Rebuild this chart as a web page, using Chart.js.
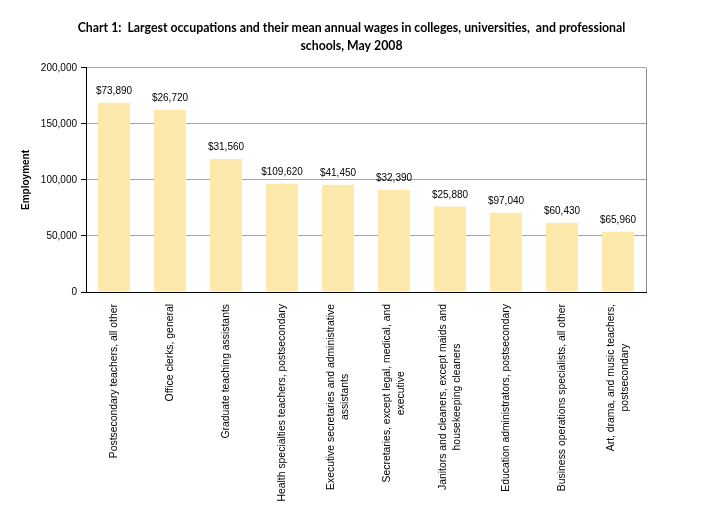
<!DOCTYPE html>
<html>
<head>
<meta charset="utf-8">
<script src="https://cdn.jsdelivr.net/npm/chart.js@4"></script>
<style>
  html, body { margin: 0; padding: 0; background: #fff; }
  #wrap { width: 703px; height: 512px; }
</style>
</head>
<body>
<div id="wrap"><canvas id="chart"></canvas></div>
<script>
const occupations = [
    'Postsecondary teachers, all other',
    'Office clerks, general',
    'Graduate teaching assistants',
    'Health specialties teachers, postsecondary',
    ['Executive secretaries and administrative', 'assistants'],
    ['Secretaries, except legal, medical, and', 'executive'],
    ['Janitors and cleaners, except maids and', 'housekeeping cleaners'],
    'Education administrators, postsecondary',
    'Business operations specialists, all other',
    ['Art, drama, and music teachers,', 'postsecondary']
];
const employment = [169000, 162500, 118800, 96700, 95800, 91300, 76200, 70800, 61900, 53800];
const meanWages = ['$73,890', '$26,720', '$31,560', '$109,620', '$41,450', '$32,390', '$25,880', '$97,040', '$60,430', '$65,960'];
const yTicks = [0, 50000, 100000, 150000, 200000];

const labelFont = '10.4px "Liberation Sans", Arial, sans-serif';

// wage labels above bars, centred category labels under the axis, grey right border
const extras = {
    id: 'extras',
    afterDatasetsDraw(chart) {
        const ctx = chart.ctx;
        const meta = chart.getDatasetMeta(0);
        ctx.save();
        ctx.font = '10px "Liberation Sans", Arial, sans-serif';
        ctx.fillStyle = '#000';
        ctx.textAlign = 'center';
        ctx.textBaseline = 'alphabetic';
        meta.data.forEach((bar, i) => {
            ctx.fillText(meanWages[i], bar.x, bar.y - 9);
        });
        const area = chart.chartArea;
        ctx.strokeStyle = '#8c8c8c';
        ctx.lineWidth = 1;
        ctx.beginPath();
        ctx.moveTo(Math.round(area.right) + 0.5, area.top);
        ctx.lineTo(Math.round(area.right) + 0.5, area.bottom);
        ctx.stroke();
        ctx.restore();
    },
    afterDraw(chart) {
        const ctx = chart.ctx;
        const x = chart.scales.x;
        const lh = 14.5;
        ctx.save();
        ctx.font = labelFont;
        ctx.fillStyle = '#000';
        ctx.textAlign = 'center';
        ctx.textBaseline = 'middle';
        occupations.forEach((lab, i) => {
            const lines = Array.isArray(lab) ? lab : [lab];
            const maxW = Math.max(...lines.map(l => ctx.measureText(l).width));
            ctx.save();
            ctx.translate(x.getPixelForTick(i), x.top);
            ctx.rotate(-Math.PI / 2);
            lines.forEach((l, j) => {
                ctx.fillText(l, -(12 + maxW / 2), (j - (lines.length - 1) / 2) * lh);
            });
            ctx.restore();
        });
        ctx.restore();
    }
};

new Chart(document.getElementById('chart'), {
    type: 'bar',
    data: {
        labels: occupations,
        datasets: [{
            data: employment,
            backgroundColor: '#FDE9AC',
            borderWidth: 0,
            barPercentage: 0.57,
            categoryPercentage: 1
        }]
    },
    options: {
        responsive: true,
        maintainAspectRatio: false,
        animation: false,
        layout: { padding: 0 },
        plugins: {
            legend: { display: false },
            tooltip: { enabled: false },
            title: {
                display: true,
                text: ['Chart 1:  Largest occupations and their mean annual wages in colleges, universities,  and professional', 'schools, May 2008'],
                color: '#000',
                font: { family: 'Lato, "Liberation Sans", sans-serif', size: 12.3, weight: 'bold', lineHeight: 1.46 },
                padding: { top: 19, bottom: 13 }
            }
        },
        scales: {
            x: {
                ticks: { display: false },
                grid: { display: false },
                border: { color: '#000', width: 1 },
                afterFit(scale) { scale.height = 220; }
            },
            y: {
                min: 0,
                max: 200000,
                afterBuildTicks(scale) { scale.ticks = yTicks.map(v => ({ value: v })); },
                ticks: {
                    color: '#000',
                    padding: 4,
                    font: { family: '"Liberation Sans", Arial, sans-serif', size: 10 },
                    callback: v => v.toLocaleString('en-US')
                },
                grid: { color: '#a6a6a6', tickColor: '#000', tickLength: 5 },
                border: { color: '#000', width: 1 },
                title: {
                    display: true,
                    text: 'Employment',
                    color: '#000',
                    font: { family: '"Liberation Sans", Arial, sans-serif', size: 10, weight: 'bold' },
                    padding: { top: 20, bottom: 0 }
                },
                afterFit(scale) { scale.width = 86; }
            },
            // empty right-hand spacer so the plot ends where the reference does
            spacer: {
                type: 'linear',
                position: 'right',
                display: true,
                ticks: { display: false },
                grid: { display: false, drawTicks: false },
                border: { display: false },
                afterFit(scale) { scale.width = 57; }
            }
        }
    },
    plugins: [extras]
});
</script>
</body>
</html>
